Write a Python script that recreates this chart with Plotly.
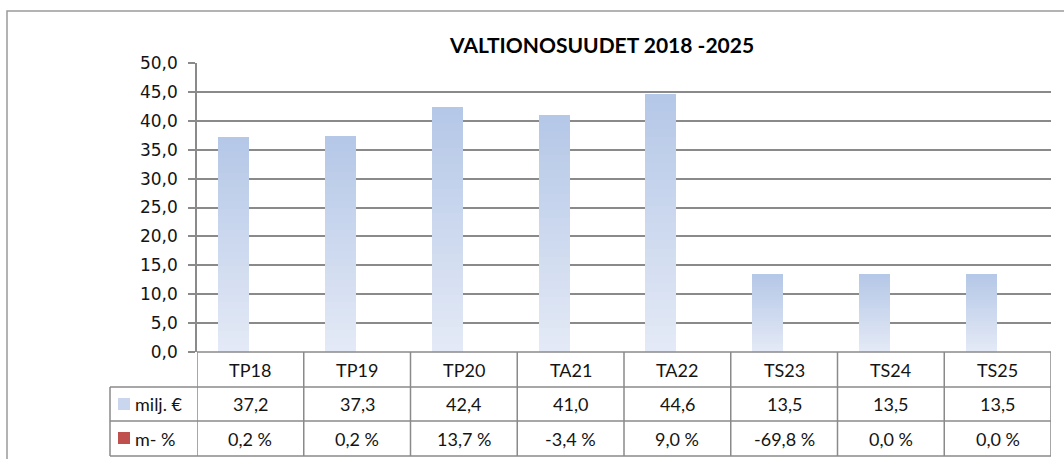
import plotly.graph_objects as go

categories = ["TP18", "TP19", "TP20", "TA21", "TA22", "TS23", "TS24", "TS25"]
milj_eur = [37.2, 37.3, 42.4, 41.0, 44.6, 13.5, 13.5, 13.5]
muutos_pct = [0.2, 0.2, 13.7, -3.4, 9.0, -69.8, 0.0, 0.0]
series_names = ["milj. €", "m- %"]
title_text = "VALTIONOSUUDET 2018 -2025"
y_ticks = [0, 5, 10, 15, 20, 25, 30, 35, 40, 45, 50]

W, H = 1064, 459
L, R, T, B = 197, 13, 63, 107
PW, PH = W - L - R, H - T - B

def px_x(px):
    return (px - L) / PW

def px_y(py):
    return (H - B - py) / PH

def fmt(v):
    return f"{v:.1f}".replace(".", ",")

GRID = "#8a8a8a"
TXT = "#141414"
TABLE_FONT = "Lato"

fig = go.Figure()

# gradient bars: stacked slices per bar (light at bottom, darker at top)
N = 30
top_c = (180, 199, 231)
bot_c = (228, 234, 246)
for k in range(N):
    t = (k + 0.5) / N
    c = tuple(round(bot_c[i] + (top_c[i] - bot_c[i]) * t) for i in range(3))
    fig.add_trace(go.Bar(
        x=categories, y=[v / N for v in milj_eur],
        marker=dict(color=f"rgb{c}", line=dict(width=0)),
        width=0.29, offset=-0.30, name=series_names[0],
        showlegend=False, hoverinfo="skip",
    ))

shapes = []
annotations = []

# outer chart border (extends past right/bottom edges of the image)
shapes.append(dict(type="rect", xref="paper", yref="paper",
                   x0=px_x(7), x1=px_x(1100), y0=px_y(520), y1=px_y(11),
                   line=dict(color="#9a9a9a", width=1.5), fillcolor="rgba(0,0,0,0)", layer="below"))

# table rows
row_y = [px_y(352), px_y(387), px_y(421), px_y(456)]
x_left_col = px_x(110)
x_right = 1.0
for k, yy in enumerate(row_y):
    x0 = 0 if k == 0 else x_left_col
    shapes.append(dict(type="line", xref="paper", yref="paper", x0=x0, x1=x_right,
                       y0=yy, y1=yy, line=dict(color=GRID, width=1.5)))
for i in range(len(categories) + 1):
    shapes.append(dict(type="line", xref="x", yref="paper", x0=i - 0.5, x1=i - 0.5,
                       y0=row_y[0], y1=row_y[3], line=dict(color=GRID, width=1.5)))
shapes.append(dict(type="line", xref="paper", yref="paper", x0=x_left_col, x1=x_left_col,
                   y0=row_y[1], y1=row_y[3], line=dict(color=GRID, width=1.5)))

mid = [(row_y[i] + row_y[i + 1]) / 2 for i in range(3)]
tf = dict(family=TABLE_FONT, size=18, color=TXT)
for i, cat in enumerate(categories):
    annotations.append(dict(x=i, y=mid[0], xref="x", yref="paper", text=cat, showarrow=False,
                            xanchor="center", yanchor="middle", font=tf))
    annotations.append(dict(x=i, y=mid[1], xref="x", yref="paper", text=fmt(milj_eur[i]),
                            xanchor="center", yanchor="middle", showarrow=False, font=tf))
    annotations.append(dict(x=i, y=mid[2], xref="x", yref="paper", text=fmt(muutos_pct[i]) + " %",
                            xanchor="center", yanchor="middle", showarrow=False, font=tf))

# legend keys in the table
shapes.append(dict(type="rect", xref="paper", yref="paper", x0=px_x(118), x1=px_x(130),
                   y0=px_y(410), y1=px_y(398), line=dict(width=0), fillcolor="#c9d6ee"))
shapes.append(dict(type="rect", xref="paper", yref="paper", x0=px_x(118), x1=px_x(130),
                   y0=px_y(444), y1=px_y(432), line=dict(width=0), fillcolor="#c0504d"))
for j, nm in enumerate(series_names):
    annotations.append(dict(x=px_x(133), y=mid[1 + j], xref="paper", yref="paper", text=nm,
                            xanchor="left", yanchor="middle", showarrow=False, font=tf))

# title
annotations.append(dict(x=px_x(601), y=px_y(45), xref="paper", yref="paper",
                        text="<b>" + title_text + "</b>", showarrow=False,
                        xanchor="center", yanchor="middle",
                        font=dict(family="Lato", size=21, color="#000000")))

fig.update_layout(
    width=W, height=H,
    margin=dict(l=L, r=R, t=T, b=B, pad=0),
    paper_bgcolor="white", plot_bgcolor="white",
    barmode="stack", bargap=0,
    separators=", ",
    shapes=shapes, annotations=annotations,
    showlegend=False,
)
fig.update_xaxes(type="category", categoryorder="array", categoryarray=categories,
                 range=[-0.5, len(categories) - 0.5], showticklabels=False,
                 showgrid=False, showline=False, zeroline=False, ticks="")
fig.update_yaxes(range=[0, 50], tickvals=y_ticks, tickformat=".1f",
                 showgrid=True, gridcolor=GRID, gridwidth=1.5,
                 showline=True, linecolor=GRID, linewidth=1.5,
                 ticks="outside", ticklen=7, tickcolor=GRID, tickwidth=1.5,
                 zeroline=False, ticklabelstandoff=7,
                 tickfont=dict(family="DejaVu Sans", size=17, color=TXT))

fig.write_html("out.html", config={"displayModeBar": False},
               post_script="document.body.style.margin='0';document.body.style.overflow='hidden';")
